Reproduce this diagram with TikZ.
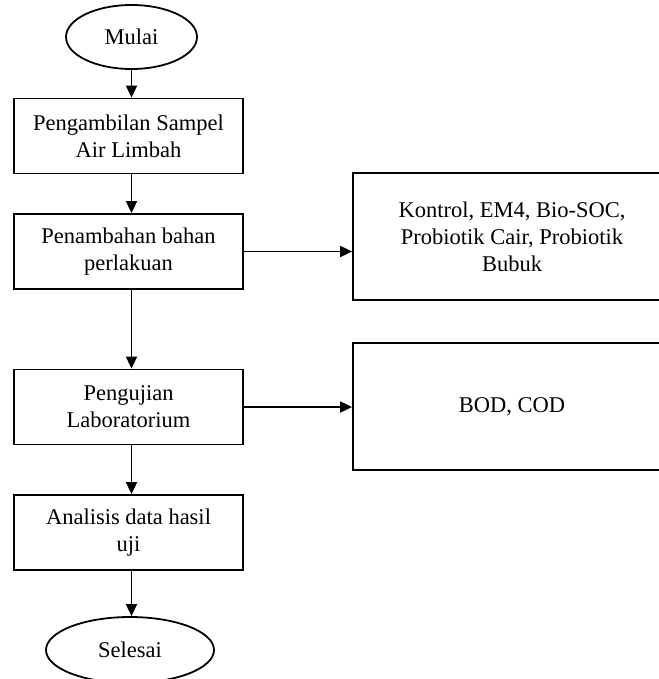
\documentclass[tikz,border=0pt]{standalone}
\usepackage{fontspec}
\setmainfont{Liberation Serif}
\usetikzlibrary{shapes.geometric,arrows.meta}
\begin{document}
\begin{tikzpicture}[x=1pt,y=-1pt,
  every node/.style={font=\fontsize{22.5}{27}\selectfont},
  boxnode/.style={draw,line width=1.8pt,rectangle,minimum width=229pt,minimum height=75pt,inner sep=0pt,align=center},
  sidebox/.style={draw,line width=1.8pt,rectangle,minimum width=318pt,minimum height=127pt,inner sep=0pt,align=center},
  termnode/.style={draw,line width=1.8pt,ellipse,inner sep=0pt,align=center},
  arr/.style={line width=1.8pt,-{Triangle[length=12pt,width=11pt]}}]
\useasboundingbox (0,0) rectangle (658,679);
\node[termnode,minimum width=131pt,minimum height=64pt] (start) at (131.5,37) {Mulai};
\node[boxnode] (b1) at (128.5,136) {Pengambilan Sampel\\Air Limbah};
\node[boxnode] (b2) at (128.5,251.5) {Penambahan bahan\\perlakuan};
\node[boxnode] (b3) at (128.5,407) {Pengujian\\Laboratorium};
\node[boxnode] (b4) at (128.5,532.5) {Analisis data hasil\\uji};
\node[termnode,minimum width=168pt,minimum height=66pt] (end) at (130,650) {Selesai};
\node[sidebox] (r1) at (512,236.5) {Kontrol, EM4, Bio-SOC,\\Probiotik Cair, Probiotik\\Bubuk};
\node[sidebox] (r2) at (512,406.5) {BOD, COD};
\draw[arr] (start.south) -- (start.south |- b1.north);
\draw[arr] (b1.south -| start.south) -- (b2.north -| start.south);
\draw[arr] (b2.south -| start.south) -- (b3.north -| start.south);
\draw[arr] (b3.south -| start.south) -- (b4.north -| start.south);
\draw[arr] (b4.south -| start.south) -- (end.north -| start.south);
\draw[arr] (b2.east) -- (b2.east -| r1.west);
\draw[arr] (b3.east) -- (b3.east -| r2.west);
\end{tikzpicture}
\end{document}
